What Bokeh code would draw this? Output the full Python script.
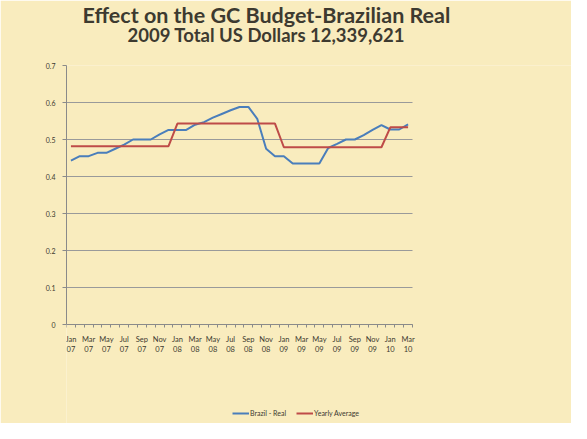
from bokeh.plotting import figure
from bokeh.models import ColumnDataSource, FixedTicker, Title, Legend, LegendItem, Range1d
from bokeh.embed import file_html
from bokeh.resources import INLINE

months = ["Jan", "Feb", "Mar", "Apr", "May", "Jun", "Jul", "Aug", "Sep", "Oct", "Nov", "Dec"]
years = ["07", "08", "09", "10"]
categories = [f"{m}\n{y}" for y in years for m in months][:39]  # Jan 07 .. Mar 10

brazil_real = [0.443, 0.455, 0.455, 0.464, 0.464, 0.475, 0.486, 0.500, 0.500, 0.500,
               0.514, 0.526, 0.526, 0.526, 0.540, 0.547, 0.559, 0.569, 0.579, 0.588,
               0.588, 0.556, 0.475, 0.455, 0.455, 0.435, 0.435, 0.435, 0.435, 0.477,
               0.488, 0.500, 0.500, 0.512, 0.526, 0.539, 0.527, 0.527, 0.541]
yearly_avg = [0.482] * 12 + [0.543] * 12 + [0.479] * 12 + [0.533] * 3

title_1 = "Effect on the GC Budget-Brazilian Real"
title_2 = "2009 Total US Dollars 12,339,621"
y_ticks = [0, 0.1, 0.2, 0.3, 0.4, 0.5, 0.6, 0.7]

n = len(categories)
idx = list(range(n))
src = ColumnDataSource(dict(x=idx, real=brazil_real, avg=yearly_avg))

BG = "#F9ECBE"
TXT = "#3d3a30"
FONT = "Lato"

# layout (pixels in the figure): plot area left 66 / right 412, top 65, zero line 324
W, H = 571, 423
LEFT, RIGHT, TOP, ZERO = 66, 412, 65, 324
ymax = y_ticks[-1]
y_start = -ymax * (H - ZERO) / (ZERO - TOP)
x_end = -0.5 + n * (W - LEFT) / (RIGHT - LEFT)

p = figure(width=W, height=H, output_backend="svg", toolbar_location=None,
           x_range=Range1d(-0.5, x_end), y_range=Range1d(y_start, ymax),
           min_border_left=LEFT, min_border_right=0, min_border_top=TOP, min_border_bottom=0)
p.background_fill_color = BG
p.border_fill_color = BG
p.outline_line_color = None

r1 = p.line("x", "real", source=src, line_color="#4A7EBB", line_width=2)
r2 = p.line("x", "avg", source=src, line_color="#BE4B48", line_width=2)

# x axis, drawn at y = 0
p.xaxis.fixed_location = 0
p.xaxis.bounds = (-0.5, n - 0.5)
p.xaxis.ticker = FixedTicker(ticks=idx[::2], minor_ticks=[i - 0.5 for i in range(n + 1)])
p.xaxis.major_label_overrides = {i: categories[i] for i in idx[::2]}
p.xaxis.major_tick_out = 0
p.xaxis.major_tick_in = 0
p.xaxis.minor_tick_out = 3
p.xaxis.minor_tick_in = 0
p.xaxis.minor_tick_line_color = "#8a8a8a"
p.xaxis.axis_line_color = "#8a8a8a"
p.xaxis.major_label_text_font = FONT
p.xaxis.major_label_text_font_size = "7.5px"
p.xaxis.major_label_text_color = TXT
p.xaxis.major_label_standoff = 7
p.xgrid.grid_line_color = None

# y axis
p.yaxis.bounds = (0, ymax)
p.yaxis.ticker = FixedTicker(ticks=y_ticks, minor_ticks=[])
p.yaxis.major_label_overrides = {0: "0"}
p.yaxis.major_tick_out = 4
p.yaxis.major_tick_in = 0
p.yaxis.major_tick_line_color = "#8a8a8a"
p.yaxis.axis_line_color = "#8a8a8a"
p.yaxis.major_label_text_font = FONT
p.yaxis.major_label_text_font_size = "7px"
p.yaxis.major_label_text_color = TXT
p.yaxis.major_label_standoff = 7
p.ygrid.grid_line_color = "#9a9a9a"
p.ygrid.grid_line_width = 1
p.ygrid.cross_bounds = (-0.5, n - 0.5)

# titles (first added is nearest the plot)
p.add_layout(Title(text=title_2, align="left", offset=61, text_font=FONT,
                   text_font_style="bold", text_font_size="18.5px", text_color=TXT,
                   standoff=40), "above")
p.add_layout(Title(text=title_1, align="left", offset=16, text_font=FONT,
                   text_font_style="bold", text_font_size="21.5px", text_color=TXT,
                   standoff=-52), "above")

legend = Legend(items=[LegendItem(label="Brazil - Real", renderers=[r1]),
                       LegendItem(label="Yearly Average", renderers=[r2])],
                location=(166, 6), orientation="horizontal",
                background_fill_alpha=0, border_line_color=None,
                padding=0, margin=0, spacing=10, glyph_width=17, glyph_height=8,
                label_standoff=1, label_text_font=FONT, label_text_font_size="7px",
                label_text_color=TXT, label_height=8)
p.add_layout(legend)

open("out.html", "w").write(file_html(p, INLINE))
